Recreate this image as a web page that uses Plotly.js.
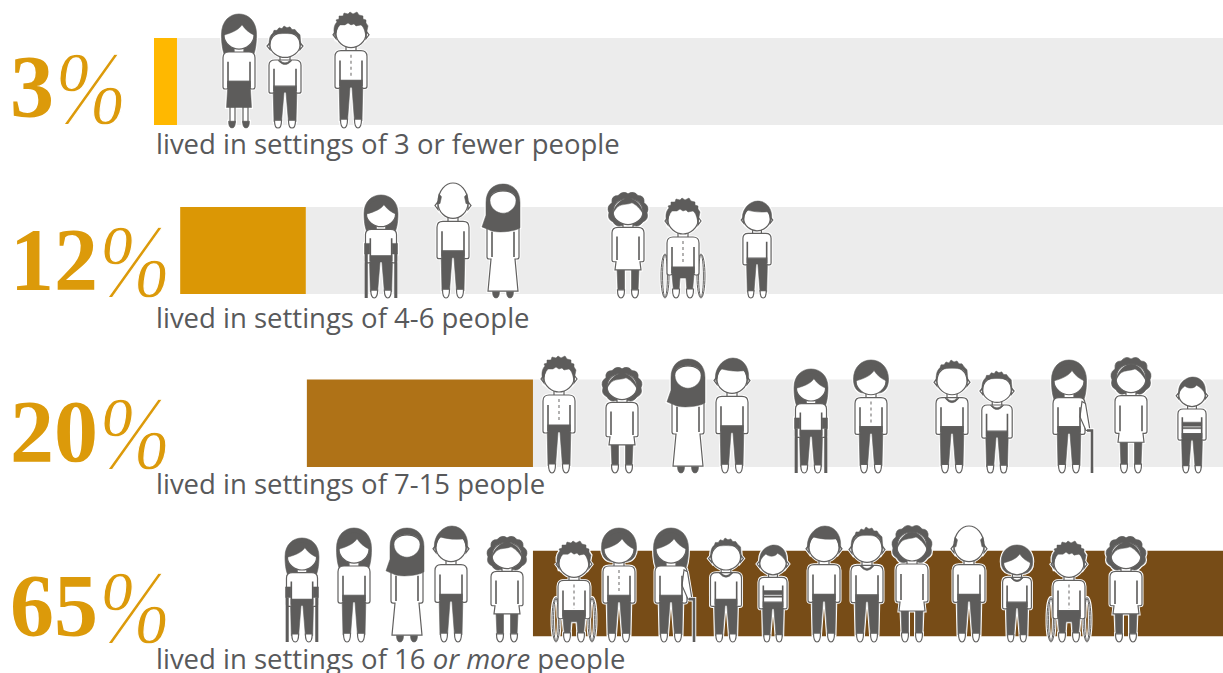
<!DOCTYPE html>
<html><head><meta charset="utf-8">
<script src="https://cdn.plot.ly/plotly-3.0.1.min.js"></script>
<style>html,body{margin:0;padding:0;background:#fff;overflow:hidden}#c{width:1223px;height:673px}</style>
</head><body><div id="c"></div>
<script>
// ---- data ----
var shareLabels = ['3', '12', '20', '65'];
var captions = ['lived in settings of 3 or fewer people','lived in settings of 4-6 people','lived in settings of 7-15 people','lived in settings of 16 <i>or more</i> people'];
var barStart = [0, 2.45, 14.3, 35.45];
var barEnd = [2.15, 14.2, 35.45, 100];
var barColors = ['#FFB800', '#DB9705', '#AF7217', '#774C17'];
var trackEnd = [100, 100, 100, 100];

// ---- layout constants ----
var W = 1223, H = 673;
var rowCentres = [81.5, 250.5, 423.3, 593.5], rowHeights = [87, 87, 87.5, 85.5];
var rowFeet = [128, 298, 473, 642];
var DARK = '#5d5c5b', EDGE = '#626160';

// ---- people: [centre x, top y, hair, outfit, extra, width factor] ----
var peopleRow1 = [[239,14,'long','skirt','',1],[285,26,'spikyThin','sweater','',1],[351,12,'spiky','buttons','',1]];
var peopleRow2 = [[381,195,'long','plain','crutches',.97],[453,183,'bald','plain','',1],[503,184,'hijab','robe','',1],[628,192,'curly','dress','',1],[683,198,'spiky','buttons','wheel',1],[757,201,'side','plain','',.88]];
var peopleRow3 = [[559,356,'spiky','buttons','',1],[622,367,'curly','dress','',1],[688,359,'hijab','robe','',1],[732,358,'side','plain','',1],[811,369,'long','plain','crutches',.97],[871,360,'bob','buttons','',1],[952,360,'spikyThin','sweater','',1],[997,371,'spikyThin','sweater','',.95],[1069,360,'long','plain','cane',1],[1131,357,'curly','dress','',1],[1192,377,'boy','striped','',.88]];
var peopleRow4 = [[302,538,'long','plain','crutches',.97],[354,528,'long','plain','',1],[407,528,'hijab','robe','',1],[451,526,'side','plain','',1],[507,536,'curly','dress','',1],[574,541,'spiky','buttons','wheel',1],[619,528,'bob','buttons','',1],[671,528,'long','plain','cane',1],[726,538,'spikyThin','sweater','',.97],[773,545,'boy','striped','',.88],[824,526,'side','plain','',1],[867,527,'spikyThin','sweater','',1],[912,525,'curly','dress','',1],[969,526,'bald','plain','',1],[1017,545,'bob','sweater','',.9],[1069,541,'spiky','buttons','wheel',1],[1126,536,'curly','dress','',1]];
var peopleRows = [peopleRow1, peopleRow2, peopleRow3, peopleRow4];

// ---- icon glyph parts, drawn in a 117-tall box whose origin is between the feet ----
var FRINGE = 'M-16 -95 C-16 -106 -7 -112 0 -112 C7 -112 16 -106 16 -95 C11 -97 6 -101 3 -106 C0 -101 -6 -98 -16 -95Z';
var HAIR = {
  spiky: {front:'M-16 -92 C-18 -99 -17 -104 -14 -107 L-15 -109 L-12 -110 L-12 -113 L-8 -113 L-7 -116 L-3 -115 L-1 -117 L2 -115 L6 -117 L8 -114 L12 -113 L12 -110 L15 -109 L15 -106 L17 -103 L16 -98 L15 -92 C14 -97 13 -102 10 -104 L5 -103 L3 -105 L0 -104 L-3 -106 L-6 -104 L-11 -104 C-14 -101 -15 -96 -16 -92Z'},
  spikyThin: {front:'M-16 -94 C-16 -103 -15 -106 -12 -109 L-11 -112 L-8 -112 L-6 -115 L-3 -114 L-1 -117 L2 -115 L5 -116 L7 -113 L10 -113 L12 -110 L15 -107 L16 -94 C15 -99 14 -104 11 -107 C5 -109 -5 -109 -11 -107 C-14 -104 -15 -99 -16 -94Z'},
  side: {front:'M-16 -93 C-19 -104 -10 -117 1 -117 C12 -117 19 -105 16 -93 C15 -98 14 -102 12 -104 C4 -103 -4 -104 -11 -106 C-14 -102 -15 -98 -16 -93Z'},
  boy: {front:'M-15 -96 C-17 -110 -6 -117 1 -117 C9 -117 17 -110 15 -96 C13 -101 9 -105 5 -107 C3 -103 -4 -102 -8 -106 C-11 -104 -14 -100 -15 -96Z'},
  bald: {face:'M-15 -97 C-15 -110 -7 -117 0 -117 C7 -117 15 -110 15 -97 C15 -87 7 -81 0 -81 C-7 -81 -15 -87 -15 -97Z', front:'M-15.5 -96 L-14 -106 L-11.5 -103 L-13 -96Z M15.5 -96 L14 -106 L11.5 -103 L13 -96Z'},
  long: {back:'M-17.5 -96 C-17.5 -110 -9 -117 0 -117 C9 -117 17.5 -110 17.5 -96 C17.5 -85 16 -77 13 -72 L-13 -72 C-16 -77 -17.5 -85 -17.5 -96Z', front:FRINGE, noEars:1},
  bob: {back:'M-17.5 -97 C-17.5 -110 -9 -117 0 -117 C9 -117 17.5 -110 17.5 -97 C17.5 -89 14 -84 9 -83 L-9 -83 C-14 -84 -17.5 -89 -17.5 -97Z', front:FRINGE, noEars:1},
  curly: {back:'M-10 -113 Q-5 -119 0 -115 Q6 -119 10 -113 Q17 -113 16 -105 Q22 -101 19 -94 Q21 -87 15 -84 Q11 -78 6 -80 L-6 -80 Q-12 -78 -15 -84 Q-21 -87 -19 -94 Q-22 -101 -16 -105 Q-17 -113 -10 -113Z', front:'M-15.5 -92 C-14 -103 -6 -110 0 -110 C7 -110 14 -103 15.5 -92 C12 -99 8 -103 4 -105 C0 -103 -6 -104 -10 -101 C-12 -99 -14 -96 -15.5 -92Z', noEars:1},
  hijab: {front:'M0 -117 C10 -117 17 -110 17 -98 L17 -72 C12 -68 -8 -66 -14 -70 L-21 -73 L-17 -85 L-17 -98 C-17 -110 -10 -117 0 -117Z M-13 -100 C-13 -108 -7 -110 0 -110 C7 -110 13 -108 13 -100 C13 -92 6 -87 0 -87 C-6 -87 -13 -92 -13 -100Z', noEars:1}
};
var FACE = 'M-15 -95 C-15 -106 -7 -110 0 -110 C7 -110 15 -106 15 -95 C15 -87 7 -81 0 -81 C-7 -81 -15 -87 -15 -95Z';
var EARS = 'M-15 -98 L-18 -94 L-15 -90Z M15 -98 L18 -94 L15 -90Z';
var NECK = 'M-5 -84 L-5 -76 Q0 -71 5 -76 L5 -84Z';
var SHIRT = 'M-16 -72 Q-16 -78 -10 -78 L10 -78 Q16 -78 16 -72 L16 -42 Q16 -40 14 -40 L12.5 -40 Q11 -40 11 -42 L11 -48 L-11 -48 L-11 -42 Q-11 -40 -12.5 -40 L-14 -40 Q-16 -40 -16 -42Z';
var DRESS = 'M-16 -72 Q-16 -78 -10 -78 L10 -78 Q16 -78 16 -72 L16 -42 Q16 -40 14 -40 L12 -40 L13 -31 L-13 -31 L-12 -40 L-14 -40 Q-16 -40 -16 -42Z';
var ROBE = 'M-16 -72 Q-16 -78 -10 -78 L10 -78 Q16 -78 16 -72 L16 -42 Q16 -40 14 -40 L12 -40 L15 -7 L-15 -7 L-12 -40 L-14 -40 Q-16 -40 -16 -42Z';
var PANTS = 'M-12 -50 L12 -50 L11 -7 L3.5 -7 L1 -41 L-1 -41 L-3.5 -7 L-11 -7Z';
var DRESSLEGS = 'M-11 -33 L-3.5 -33 L-3.5 -7 L-10 -7Z M3.5 -33 L11 -33 L10 -7 L3.5 -7Z';
var SHOES = 'M-10.5 -9 Q-10.5 0 -7 0 Q-3.5 0 -3.5 -9Z M3.5 -9 Q3.5 0 7 0 Q10.5 0 10.5 -9Z';
var DARKSHOES = 'M-10.5 -7 Q-10.5 0 -7 0 Q-3.5 0 -3.5 -7Z M3.5 -7 Q3.5 0 7 0 Q10.5 0 10.5 -7Z';
var SKIRT = 'M-11 -48 L11 -48 L12.5 -21 L-12.5 -21Z';
var WOMANLEGS = 'M-9 -22 L-4 -22 L-4 -6 L-9 -6Z M4 -22 L9 -22 L9 -6 L4 -6Z';
var ARMLINES = 'M-11 -68 L-11 -42 M11 -68 L11 -42';
var COLLAR = 'M-7 -77.5 Q0 -68 7 -77.5 L5 -77.5 Q0 -72 -5 -77.5Z';
var STRIPES = 'M-11 -62 L11 -62 L11 -57 L-11 -57Z M-11 -55.5 L11 -55.5 L11 -54 L-11 -54Z M-11 -41 L11 -41 L11 -40 L-11 -40Z';
var CUFFS = 'M-17 -62 L-11.5 -62 L-11.5 -50 L-17 -50Z M11.5 -62 L17 -62 L17 -50 L11.5 -50Z';
var POLES = 'M-16 -50 L-16 0 M-14.5 -50 L-14.5 0 M16 -50 L16 0 M14.5 -50 L14.5 0';
var CANEARM = 'M13 -74 L16.5 -72 L21 -44 L17 -44 L11 -58Z';
var CANE = 'M18 -44 L23 -44 L23 0';
var SEATED = 'M-11 -33 C-6 -37 6 -37 11 -33 L11 -24 L9.5 -7 L4 -7 L3 -20 L-3 -20 L-4 -7 L-9.5 -7 L-11 -24Z';
function ell(cx, cy, rx, ry) {
  var k = 0.55, a = rx*k, b = ry*k;
  return 'M'+(cx-rx)+' '+cy+' C'+(cx-rx)+' '+(cy-b)+' '+(cx-a)+' '+(cy-ry)+' '+cx+' '+(cy-ry)+' C'+(cx+a)+' '+(cy-ry)+' '+(cx+rx)+' '+(cy-b)+' '+(cx+rx)+' '+cy+' C'+(cx+rx)+' '+(cy+b)+' '+(cx+a)+' '+(cy+ry)+' '+cx+' '+(cy+ry)+' C'+(cx-a)+' '+(cy+ry)+' '+(cx-rx)+' '+(cy+b)+' '+(cx-rx)+' '+cy+'Z';
}
var WHEELS = [ell(-18,-22,4,22), ell(-18,-22,2.4,21), ell(18,-22,4,22), ell(18,-22,2.4,21)].join(' ');

function place(part, cx, foot, sx, sy, dy) {
  var isX = true;
  return part.replace(/-?\d*\.?\d+/g, function (n) {
    var v = parseFloat(n), out;
    if (isX) out = (cx + v*sx) / W;
    else out = 1 - (foot + (v + dy)*sy) / H;
    isX = !isX;
    return ' ' + out.toFixed(5) + ' ';
  });
}
function shape(path, fill, color, width, dash) {
  var s = {type:'path', xref:'paper', yref:'paper', layer:'above', path:path, fillcolor:fill, line:{color:color, width:width}};
  if (dash) s.line.dash = dash;
  return s;
}
function personShapes(p, foot) {
  var cx = p[0], top = p[1], hairName = p[2], outfit = p[3], extra = p[4], wf = p[5];
  var wheel = extra === 'wheel';
  var sy = (foot - top) / (wheel ? 100 : 117);
  var sx = wf;
  var dy = wheel ? 17 : 0;
  var hair = HAIR[hairName];
  function up(part) { return place(part, cx, foot, sx, sy, dy); }
  function low(part) { return place(part, cx, foot, sx, sy, 0); }

  var back = [], white = [], front = [], lines = [], silhouette = [];
  var face = hair.face || FACE;
  if (hair.back) back.push(up(hair.back));
  if (!hair.noEars) white.push(up(EARS));
  white.push(up(NECK));
  var torso = outfit === 'dress' ? DRESS : outfit === 'robe' ? ROBE : SHIRT;
  white.push(up(torso));
  white.push(up(face));
  if (hair.front) front.push(up(hair.front));
  lines.push(up(ARMLINES));

  if (wheel) { back.push(low(SEATED)); white.push(low(SHOES)); }
  else if (outfit === 'dress') { back.push(low(DRESSLEGS)); white.push(low(SHOES)); }
  else if (outfit === 'robe') { back.push(low(DARKSHOES)); }
  else if (outfit === 'skirt') { white.unshift(low(WOMANLEGS)); front.push(low(SKIRT)); front.push(low(DARKSHOES)); }
  else { back.push(low(PANTS)); white.push(low(SHOES)); }

  if (outfit === 'sweater') front.push(up(COLLAR));
  if (outfit === 'striped') front.push(up(STRIPES));
  if (extra === 'crutches') { front.push(up(CUFFS)); lines.push(low(POLES)); }
  if (extra === 'cane') white.push(low(CANEARM));

  silhouette = back.concat(white, front);
  var out = [];
  if (wheel) out.push(shape(low(WHEELS), 'rgba(0,0,0,0)', '#ffffff', 3));
  out.push(shape(silhouette.join(' '), '#ffffff', '#ffffff', 3));
  if (wheel) out.push(shape(low(WHEELS), 'rgba(0,0,0,0)', EDGE, 1));
  if (back.length) out.push(shape(back.join(' '), DARK, DARK, 0.6));
  white.forEach(function (w) { out.push(shape(w, '#ffffff', EDGE, 1.2)); });
  if (front.length) out.push(shape(front.join(' '), DARK, DARK, 0.5));
  out.push(shape(lines.join(' '), 'rgba(0,0,0,0)', DARK, 1.6));
  if (extra === 'cane') {
    out.push(shape(low(CANE), 'rgba(0,0,0,0)', '#ffffff', 4.5));
    out.push(shape(low(CANE), 'rgba(0,0,0,0)', DARK, 2.6));
  }
  if (outfit === 'buttons') out.push(shape(up('M0 -74 L0 -50'), 'rgba(0,0,0,0)', '#8a8988', 1.3, 'dot'));
  return out;
}
var shapes = [];
peopleRows.forEach(function (row, i) {
  row.forEach(function (p) { shapes = shapes.concat(personShapes(p, rowFeet[i])); });
});

// ---- traces ----
var trackTrace = {type:'bar', orientation:'h', y:rowCentres, base:barEnd,
  x:trackEnd.map(function (e, i) { return e - barEnd[i]; }), width:rowHeights,
  marker:{color:'#ececec', line:{width:0}}, hoverinfo:'skip', showlegend:false};
var shareTrace = {type:'bar', orientation:'h', y:rowCentres, base:barStart,
  x:barEnd.map(function (e, i) { return e - barStart[i]; }), width:rowHeights,
  marker:{color:barColors, line:{width:0}}, hoverinfo:'skip', showlegend:false};

// ---- text ----
var digitBaseline = [116, 289, 461, 635];
var captionMiddle = [143, 317, 483, 658];
var PCT_SIZE = 98;
var annotations = [];
shareLabels.forEach(function (s, i) {
  annotations.push({xref:'paper', yref:'paper', x:9/W, y:1-(digitBaseline[i]+20)/H, xanchor:'left', yanchor:'bottom', showarrow:false,
    text:'<b>'+s+'</b>', font:{family:'Liberation Serif', size:88, color:'#DC9A0A'}, borderpad:0});
  annotations.push({xref:'paper', yref:'paper', x:(s.length > 1 ? 98 : 54)/W, y:1-(digitBaseline[i]+31)/H, xanchor:'left', yanchor:'bottom', showarrow:false,
    text:'<i>%</i>', font:{family:'Liberation Serif', size:PCT_SIZE, color:'#DC9A0A'}, borderpad:0});
  annotations.push({xref:'paper', yref:'paper', x:155/W, y:1-captionMiddle[i]/H, xanchor:'left', yanchor:'middle', showarrow:false,
    text:captions[i], font:{family:'Open Sans', size:27.5, color:'#58595b'}, borderpad:0});
});

Plotly.newPlot('c', [trackTrace, shareTrace], {
  width:W, height:H, margin:{l:0, r:0, t:0, b:0}, paper_bgcolor:'#fff', plot_bgcolor:'#fff',
  barmode:'overlay', showlegend:false,
  xaxis:{range:[-14.406, 100], visible:false, fixedrange:true},
  yaxis:{range:[H, 0], visible:false, fixedrange:true},
  shapes:shapes, annotations:annotations
}, {displayModeBar:false, staticPlot:true}).then(function (gd) {
  // the percent sign in the reference is a narrower, hairline italic: thin it and condense it
  gd.querySelectorAll('.annotation-text').forEach(function (t) {
    if (t.textContent !== '%') return;
    t.style.stroke = '#ffffff';
    t.style.strokeWidth = '1.2px';
    var b = t.getBBox();
    t.setAttribute('transform', (t.getAttribute('transform') || '') +
      ' translate(' + b.x + ' ' + (b.y + b.height) + ') scale(0.88 1.05) translate(' + (-b.x) + ' ' + (-(b.y + b.height)) + ')');
  });
});
</script></body></html>
